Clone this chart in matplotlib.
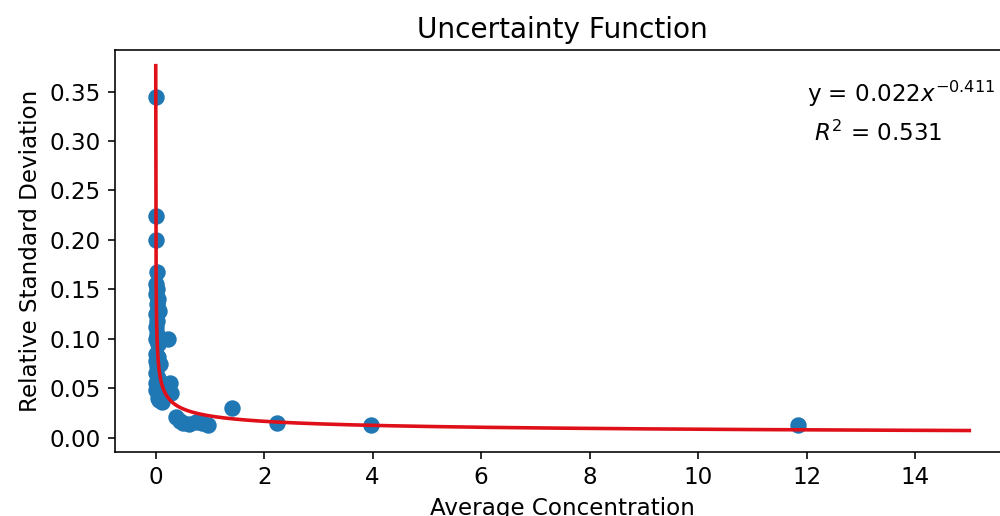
import numpy as np
import matplotlib
matplotlib.use('Agg')
import matplotlib.pyplot as plt

# Measured samples: average concentration vs relative standard deviation
avg_conc = [0.005, 0.005, 0.005, 0.02,
            0.0, 0.03, 0.01, 0.04, 0.02, 0.05, 0.0, 0.06, 0.03, 0.01,
            0.02, 0.0, 0.22, 0.04, 0.01, 0.05, 0.0, 0.03, 0.08, 0.01,
            0.04, 0.0, 0.26, 0.06, 0.0, 0.29, 0.07, 0.05, 0.12,
            0.38, 0.45, 0.5, 0.62, 0.75, 0.85, 0.96,
            1.40, 2.23, 3.97, 11.85]
rel_std = [0.345, 0.224, 0.200, 0.168,
           0.155, 0.150, 0.145, 0.140, 0.135, 0.130, 0.125, 0.128, 0.118, 0.112,
           0.105, 0.100, 0.100, 0.095, 0.085, 0.082, 0.078, 0.072, 0.075, 0.065,
           0.060, 0.055, 0.055, 0.050, 0.048, 0.045, 0.038, 0.040, 0.036,
           0.021, 0.017, 0.015, 0.014, 0.016, 0.015, 0.013,
           0.030, 0.015, 0.013, 0.013]

# Power-law fit y = a * x^b
fit_a = 0.022
fit_b = -0.411
fit_r2 = 0.531
fit_x_range = (0.001, 15)

plt.rcParams['font.size'] = 11.5

fig = plt.figure(figsize=(1000 / 144, 516 / 144), dpi=144)
ax = fig.add_axes([0.115, 0.124, 0.895, 0.779])

xs = np.linspace(fit_x_range[0], fit_x_range[1], 2000)
ax.scatter(avg_conc, rel_std, s=52, color='#1f77b4', zorder=2)
ax.plot(xs, fit_a * xs ** fit_b, color='#e0101a', linewidth=1.8, zorder=3)

ax.text(12, 0.34, f'y = {fit_a}$x^{{{fit_b}}}$')
ax.text(12, 0.30, f' $R^2$ = {fit_r2}')

ax.set_ylim(-0.0145, 0.392)
ax.set_xticks(range(0, 16, 2))
ax.set_yticks(np.arange(0, 0.36, 0.05))
ax.spines['right'].set_visible(False)
ax.set_title('Uncertainty Function', fontsize=14)
ax.set_xlabel('Average Concentration')
ax.set_ylabel('Relative Standard Deviation')

fig.savefig('out.png', dpi=144)
